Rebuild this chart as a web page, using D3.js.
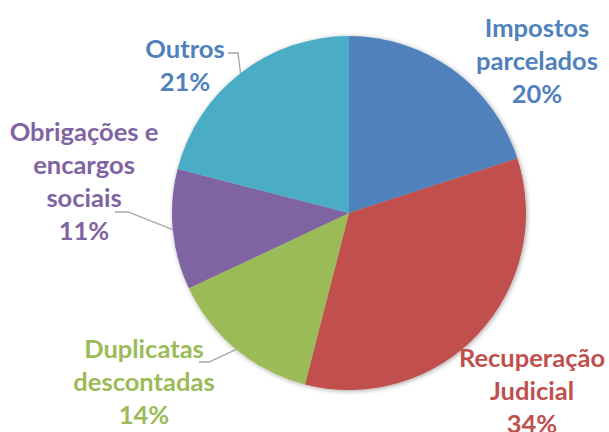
<!DOCTYPE html>
<html><head><meta charset="utf-8">
<script src="https://cdn.jsdelivr.net/npm/d3@7/dist/d3.min.js"></script>
<style>html,body{margin:0;padding:0;background:#fff;}svg{display:block;}</style>
</head><body>
<svg id="chart" width="609" height="432"></svg>
<script>
const categories = ["Impostos parcelados", "Recuperação Judicial", "Duplicatas descontadas", "Obrigações e encargos sociais", "Outros"];
const values = [20, 34, 14, 11, 21];
const labelLines = [["Impostos", "parcelados"], ["Recuperação", "Judicial"], ["Duplicatas", "descontadas"], ["Obrigações e", "encargos", "sociais"], ["Outros"]];
const sliceColors = ["#4F81BD", "#C0504D", "#9BBB59", "#8064A2", "#4BACC6"];
const textColors = ["#4F81BD", "#C0504D", "#9BBB59", "#8064A2", "#4F81BD"];

// layout (label anchor: center x, first baseline y) and leader lines
const labelLayout = [
  {x: 537, y: 37},
  {x: 532, y: 367},
  {x: 144, y: 358},
  {x: 84, y: 141},
  {x: 185, y: 58}
];
const leaderLayout = [
  null, null,
  [[199, 362], [209, 362]],
  [[115, 212], [128, 212]],
  [[228, 53], [238, 53]]
];

const svg = d3.select("#chart");
const cx = 349, cy = 213, R = 177;
const defs = svg.append("defs");
const f = defs.append("filter").attr("id", "sh").attr("x", "-10%").attr("y", "-10%").attr("width", "120%").attr("height", "120%");
f.append("feGaussianBlur").attr("in", "SourceAlpha").attr("stdDeviation", 2.5);
f.append("feOffset").attr("dx", 1).attr("dy", 1).attr("result", "b");
f.append("feComponentTransfer").append("feFuncA").attr("type", "linear").attr("slope", 0.35);
const m = f.append("feMerge"); m.append("feMergeNode"); m.append("feMergeNode").attr("in", "SourceGraphic");

const pie = d3.pie().sort(null).value(d => d);
const arcs = pie(values);
const arc = d3.arc().innerRadius(0).outerRadius(R);
const g = svg.append("g").attr("transform", `translate(${cx},${cy})`);
g.append("g").attr("filter", "url(#sh)").selectAll("path").data(arcs).join("path")
  .attr("d", arc).attr("fill", (d, i) => sliceColors[i]);

// leader lines: from label end to slice edge at mid angle
arcs.forEach((a, i) => {
  const L = leaderLayout[i];
  if (!L) return;
  const mid = (a.startAngle + a.endAngle) / 2;
  const ex = cx + R * Math.sin(mid), ey = cy - R * Math.cos(mid);
  svg.append("polyline")
    .attr("points", [...L, [ex, ey]].map(p => p.join(",")).join(" "))
    .attr("fill", "none").attr("stroke", "#A6A6A6").attr("stroke-width", 1.3);
});

const fontFam = "Lato, 'Open Sans', sans-serif";
arcs.forEach((a, i) => {
  const lines = [...labelLines[i], d3.format(".0%")(values[i] / 100)];
  const t = svg.append("text").attr("text-anchor", "middle")
    .attr("font-family", fontFam).attr("font-weight", "bold").attr("font-size", 25.5)
    .attr("fill", textColors[i]);
  lines.forEach((s, k) => t.append("tspan").attr("x", labelLayout[i].x).attr("y", labelLayout[i].y + k * 33).text(s));
});
</script>
</body></html>
